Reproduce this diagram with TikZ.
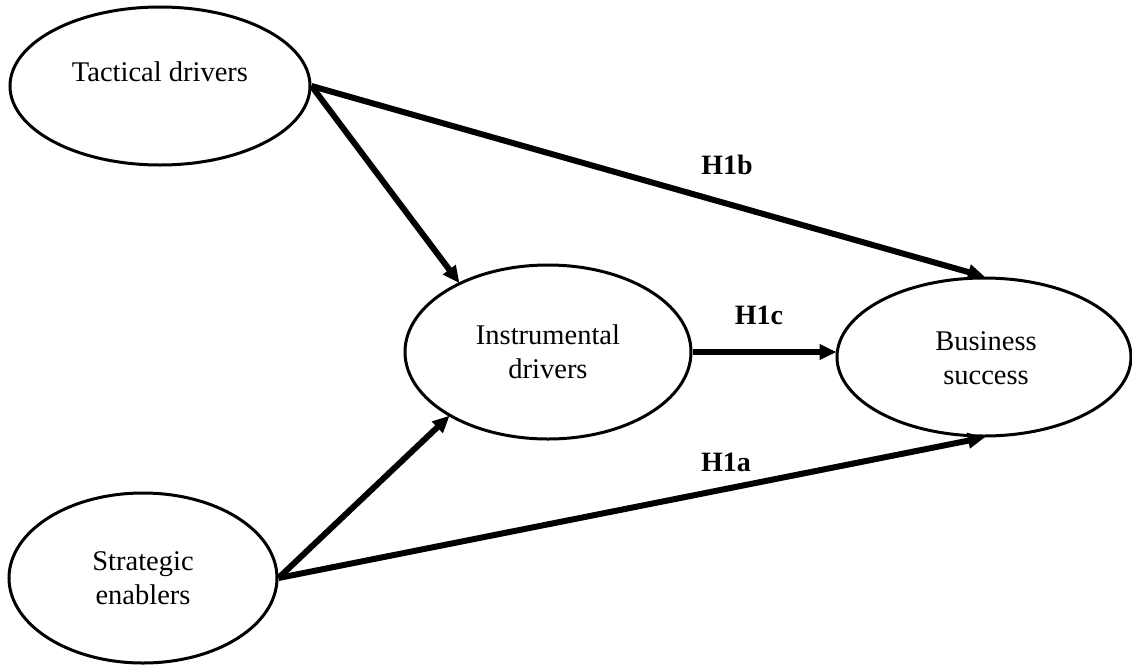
\documentclass[tikz,border=0pt]{standalone}
\usepackage{fontspec}
\setmainfont{Liberation Serif}
\usetikzlibrary{arrows.meta,shapes.geometric}
\tikzset{
  construct/.style={draw, ellipse, line width=3pt, inner sep=0pt, fill=white},
  ctext/.style={align=center, font=\fontsize{28.5}{34}\selectfont, inner sep=0pt},
  hyp/.style={font=\fontsize{28}{34}\selectfont\bfseries, inner sep=0pt},
  path/.style={line width=6pt, -{Triangle[length=17pt,width=15pt]}, shorten >=-1pt}
}
\begin{document}
\begin{tikzpicture}[x=1pt,y=-1pt]
\useasboundingbox (0,0) rectangle (1132,667);
\node[construct, minimum width=300pt, minimum height=158pt] (tac) at (160,86) {};
\node[construct, minimum width=268pt, minimum height=170pt] (str) at (143,578) {};
\node[construct, minimum width=286pt, minimum height=174pt] (ins) at (548,352) {};
\node[construct, minimum width=294pt, minimum height=158pt] (bus) at (984,357) {};
\node[ctext] (tact) at (160,72) {Tactical drivers};
\node[ctext] (strt) at (143,578) {Strategic\\enablers};
\node[ctext] (inst) at (548,352) {Instrumental\\drivers};
\node[ctext] (bust) at (986,358) {Business\\success};
\draw[path] (tac.east) -- (bus.north);
\draw[path] (tac.east) -- (ins.142);
\draw[path] (ins.east) -- (bus.west |- ins.east);
\draw[path] (str.east) -- (ins.213);
\draw[path] (str.east) -- (bus.south);
\node[hyp] (h1b) at (727,165) {H1b};
\node[hyp] (h1c) at (759,315) {H1c};
\node[hyp] (h1a) at (726,462) {H1a};
\end{tikzpicture}
\end{document}
